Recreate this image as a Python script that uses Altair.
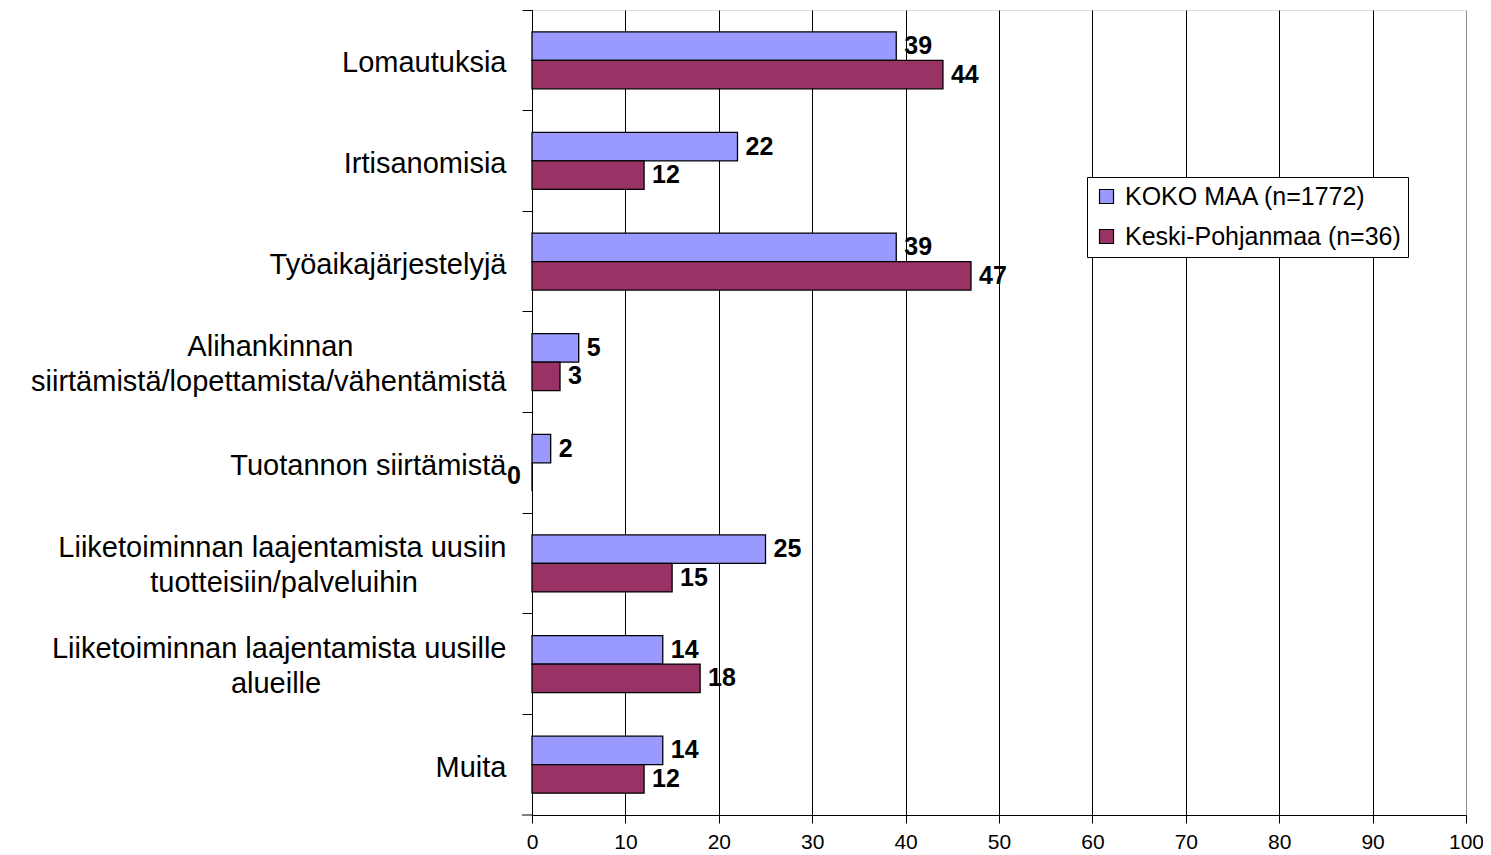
import altair as alt
import pandas as pd

NB = "\u00a0"
ZW = "\u200b"
categories = [
    "Lomautuksia",
    "Irtisanomisia",
    "Työaikajärjestelyjä",
    "Alihankinnan" + NB * 19 + ZW + "|siirtämistä/lopettamista/vähentämistä",
    "Tuotannon siirtämistä",
    "Liiketoiminnan laajentamista uusiin|tuotteisiin/palveluihin" + NB * 11 + ZW,
    "Liiketoiminnan laajentamista uusille|alueille" + NB * 23 + ZW,
    "Muita",
]
series = ["KOKO MAA (n=1772)", "Keski-Pohjanmaa (n=36)"]
koko_maa = [39, 22, 39, 5, 2, 25, 14, 14]
keski_pohjanmaa = [44, 12, 47, 3, 0, 15, 18, 12]
x_ticks = [0, 10, 20, 30, 40, 50, 60, 70, 80, 90, 100]
colors = ["#9999FF", "#993366"]

rows = []
for c, a, b in zip(categories, koko_maa, keski_pohjanmaa):
    rows.append({"cat": c, "series": series[0], "value": a})
    rows.append({"cat": c, "series": series[1], "value": b})
df = pd.DataFrame(rows)

FONT = "Liberation Sans"

y_enc = alt.Y(
    "cat:N",
    sort=categories,
    title=None,
    scale=alt.Scale(paddingInner=0, paddingOuter=0),
    axis=alt.Axis(
        bandPosition=0,
        labelExpr="split(datum.label, '|')",
        labelFontSize=29,
        labelFont=FONT,
        labelColor="black",
        labelLimit=700,
        labelPadding=16,
        labelLineHeight=35,
        labelAlign="right",
        labelOffset={"condition": {"test": "indexof(datum.value, '|') >= 0", "value": -15}, "value": 3},
        tickSize=10,
        tickColor="black",
        domainColor="black",
        grid=False,
    ),
)
yoff_enc = alt.YOffset(
    "series:N", sort=series, scale=alt.Scale(paddingInner=0, paddingOuter=0.765)
)
x_enc = alt.X(
    "value:Q",
    title=None,
    scale=alt.Scale(domain=[0, 100], nice=False),
    axis=alt.Axis(
        values=x_ticks,
        labelFontSize=21,
        labelFont=FONT,
        labelColor="black",
        labelPadding=8,
        labelFlush=False,
        tickSize=8,
        tickColor="black",
        domainColor="black",
        grid=True,
        gridColor={"condition": {"test": "datum.value === 100", "value": "#8c8c8c"}, "value": "black"},
        gridWidth=1,
    ),
)

base = alt.Chart(df)

bars = base.mark_bar(stroke="black", strokeWidth=1.3).encode(
    y=y_enc,
    yOffset=yoff_enc,
    x=x_enc,
    color=alt.Color(
        "series:N",
        sort=series,
        scale=alt.Scale(domain=series, range=colors),
        legend=alt.Legend(
            title=None,
            orient="none",
            legendX=555,
            legendY=167,
            fillColor="white",
            strokeColor="black",
            padding=7,
            symbolType="square",
            symbolSize=196,
            symbolStrokeColor="black",
            symbolStrokeWidth=1.2,
            labelFontSize=25,
            labelFont=FONT,
            labelColor="black",
            labelLimit=500,
            labelOffset=6,
            rowPadding=14,
            cornerRadius=0,
        ),
    ),
)

labels = base.transform_filter("datum.value > 0").mark_text(
    align="left", baseline="middle", dx=8, fontWeight="bold", fontSize=25, font=FONT, color="black"
).encode(y=y_enc, yOffset=yoff_enc, x=x_enc, text="value:Q")

zero_labels = base.transform_filter("datum.value == 0").mark_text(
    align="left", baseline="middle", dx=-25, dy=-1, fontWeight="bold", fontSize=25, font=FONT, color="black"
).encode(y=y_enc, yOffset=yoff_enc, x=x_enc, text="value:Q")

bottom_tick = alt.Chart(pd.DataFrame({"a": [0]})).mark_rule(color="black").encode(
    x=alt.value(-10), x2=alt.value(0), y=alt.value(805)
)

chart = (
    alt.layer(bars, labels, zero_labels, bottom_tick)
    .properties(
        width=934,
        height=805,
        autosize=alt.AutoSizeParams(type="none"),
        padding={"left": 524, "top": 2, "right": 17, "bottom": 40},
    )
    .configure_view(stroke="#8c8c8c", strokeWidth=1)
    .configure(background="white")
)

chart.save("out.html", embed_options={"renderer": "svg", "actions": False})
